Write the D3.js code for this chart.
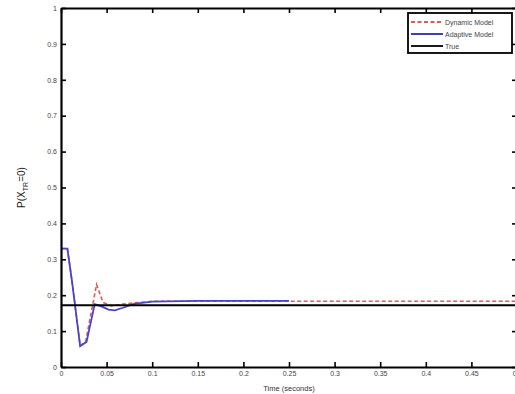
<!DOCTYPE html>
<html>
<head>
<meta charset="utf-8">
<script src="https://cdn.jsdelivr.net/npm/d3@7.9.0/dist/d3.min.js"></script>
<style>
  body { margin: 0; background: #fff; }
  svg { display: block; font-family: 'Liberation Sans', Arial, sans-serif; }
  .tick text { fill: #444; font-size: 7px; }
</style>
</head>
<body>
<svg id="chart" width="515" height="394"></svg>
<script>
// ====== Data ======
const dynamicTime = [0, 0.007, 0.012, 0.021, 0.027, 0.033, 0.039, 0.046, 0.055, 0.07, 0.1, 0.2, 0.3, 0.4, 0.5];
const dynamicValue = [0.33, 0.33, 0.24, 0.06, 0.07, 0.15, 0.23, 0.18, 0.17, 0.176, 0.183, 0.183, 0.183, 0.183, 0.183];

const adaptiveTime = [0, 0.007, 0.012, 0.021, 0.028, 0.037, 0.045, 0.052, 0.059, 0.068, 0.08, 0.1, 0.15, 0.2, 0.25];
const adaptiveValue = [0.33, 0.33, 0.24, 0.058, 0.07, 0.175, 0.168, 0.16, 0.158, 0.165, 0.176, 0.182, 0.184, 0.184, 0.184];

const trueTime = [0, 0.5];
const trueValue = [0.172, 0.172];

const xTicks = [0, 0.05, 0.1, 0.15, 0.2, 0.25, 0.3, 0.35, 0.4, 0.45, 0.5];
const yTicks = [0, 0.1, 0.2, 0.3, 0.4, 0.5, 0.6, 0.7, 0.8, 0.9, 1];
const legendLabels = ['Dynamic Model', 'Adaptive Model', 'True'];

// ====== Setup ======
const svg = d3.select('#chart');
const margin = { left: 61, top: 8, right: -2, bottom: 27 };
const width = 515 - margin.left - margin.right;
const height = 394 - margin.top - margin.bottom;

const x = d3.scaleLinear().domain([0, 0.5]).range([0, width]);
const y = d3.scaleLinear().domain([0, 1]).range([height, 0]);

const g = svg.append('g').attr('transform', `translate(${margin.left},${margin.top})`);

// ====== Lines ======
const line = d3.line().x((d) => x(d[0])).y((d) => y(d[1]));
const zip = (a, b) => a.map((v, i) => [v, b[i]]);

g.append('path')
  .attr('d', line(zip(dynamicTime, dynamicValue)))
  .attr('fill', 'none')
  .attr('stroke', '#dd5a5a')
  .attr('stroke-width', 1.6)
  .attr('stroke-dasharray', '4,2.5');

g.append('path')
  .attr('d', line(zip(adaptiveTime, adaptiveValue)))
  .attr('fill', 'none')
  .attr('stroke', '#4a44cc')
  .attr('stroke-width', 1.8);

g.append('path')
  .attr('d', line(zip(trueTime, trueValue)))
  .attr('fill', 'none')
  .attr('stroke', '#000')
  .attr('stroke-width', 2);

// ====== Axes (ticks pointing inward, box style) ======
const fmt = d3.format('~g');
const styleAxis = (sel) => {
  sel.select('.domain').attr('stroke', '#000').attr('stroke-width', 2.2);
  sel.selectAll('.tick line').attr('stroke', '#000').attr('stroke-width', 1.6);
};

g.append('g')
  .attr('transform', `translate(0,${height})`)
  .call(d3.axisBottom(x).tickValues(xTicks).tickFormat(fmt).tickSizeInner(-5).tickSizeOuter(0).tickPadding(4))
  .call(styleAxis);

g.append('g')
  .call(d3.axisTop(x).tickValues(xTicks).tickFormat('').tickSizeInner(-5).tickSizeOuter(0))
  .call(styleAxis);

g.append('g')
  .call(d3.axisLeft(y).tickValues(yTicks).tickFormat(fmt).tickSizeInner(-5).tickSizeOuter(0).tickPadding(4))
  .call(styleAxis);

g.append('g')
  .attr('transform', `translate(${width},0)`)
  .call(d3.axisRight(y).tickValues(yTicks).tickFormat('').tickSizeInner(-5).tickSizeOuter(0))
  .call(styleAxis);

// ====== Axis labels ======
svg.append('text')
  .attr('x', margin.left + width / 2)
  .attr('y', 391)
  .attr('text-anchor', 'middle')
  .attr('font-size', 7.5)
  .attr('fill', '#333')
  .text('Time (seconds)');

const yl = svg.append('text')
  .attr('transform', `translate(25,${margin.top + height / 2}) rotate(-90)`)
  .attr('text-anchor', 'middle')
  .attr('font-size', 10)
  .attr('fill', '#222');
yl.append('tspan').text('P(X');
yl.append('tspan').attr('font-size', 7).attr('dy', 3).text('TR');
yl.append('tspan').attr('dy', -3).text('=0)');

// ====== Legend ======
const legend = svg.append('g').attr('transform', 'translate(408,13)');
legend.append('rect')
  .attr('width', 104).attr('height', 40)
  .attr('fill', '#fff').attr('stroke', '#000').attr('stroke-width', 1.8);

const legendStyles = [
  { color: '#dd5a5a', dash: '4,2.5' },
  { color: '#2a2aa8', dash: null },
  { color: '#000', dash: null }
];

legendLabels.forEach((label, i) => {
  const row = legend.append('g').attr('transform', `translate(0,${9 + i * 12})`);
  row.append('line')
    .attr('x1', 3).attr('x2', 35)
    .attr('stroke', legendStyles[i].color)
    .attr('stroke-width', 1.8)
    .attr('stroke-dasharray', legendStyles[i].dash);
  row.append('text')
    .attr('x', 37).attr('y', 2.5)
    .attr('font-size', 7)
    .attr('fill', '#444')
    .text(label);
});
</script>
</body>
</html>
